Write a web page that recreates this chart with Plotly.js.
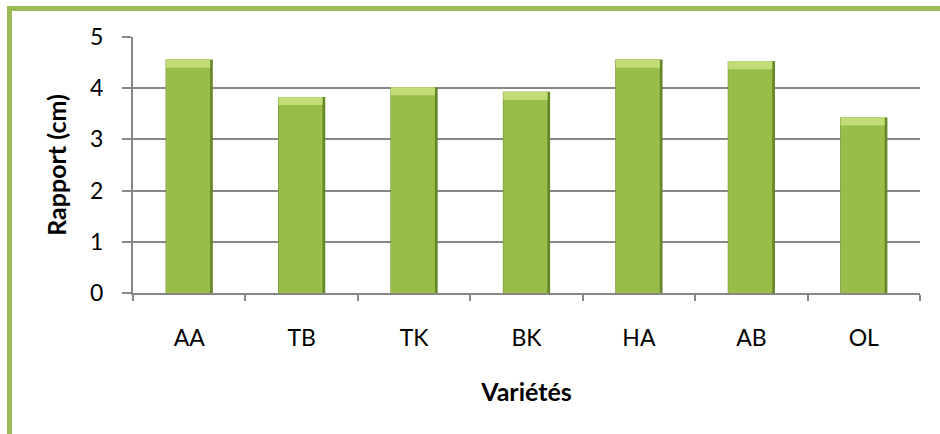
<!DOCTYPE html>
<html>
<head>
<meta charset="utf-8">
<script src="https://cdn.plot.ly/plotly-3.0.1.min.js"></script>
<style>
  html, body { margin: 0; padding: 0; background: #ffffff; overflow: hidden; width: 940px; height: 434px; }
  #frame {
    position: absolute; left: 7px; top: 6px; width: 980px; height: 426px;
    border-left: 5px solid #9BBB59; border-top: 5px solid #9BBB59;
    border-bottom: 1px solid #ececec;
  }
  #chart { position: absolute; left: 0; top: 0; width: 940px; height: 434px; }
</style>
</head>
<body>
<div id="frame"></div>
<div id="chart"></div>
<script>
// Varieties and their measured ratio (cm)
const varietes = ["AA", "TB", "TK", "BK", "HA", "AB", "OL"];
const rapport = [4.56, 3.83, 4.02, 3.93, 4.56, 4.53, 3.43];
const yTicks = [0, 1, 2, 3, 4, 5];

// height of the light bevel band at the top of each bar (data units)
const bevel = 0.16;

const font = "Lato, 'Open Sans', sans-serif";

const traces = [
  // dark outer shell of each bar
  {
    type: "bar", x: varietes, y: rapport,
    width: 0.42,
    marker: { color: "#66862A", line: { width: 0 } },
    hoverinfo: "skip"
  },
  // main body, inset so the darker right edge shows
  {
    type: "bar", x: varietes, y: rapport,
    width: 0.392, offset: -0.206,
    marker: { color: "#98BD48", line: { width: 0 } },
    hoverinfo: "skip"
  },
  // lighter bevel band along the top
  {
    type: "bar", x: varietes,
    y: rapport.map(() => bevel),
    base: rapport.map(v => v - bevel),
    width: 0.392, offset: -0.206,
    marker: { color: "#C2DD78", line: { width: 0 } },
    hoverinfo: "skip"
  }
];

const layout = {
  width: 940, height: 434,
  margin: { l: 133, r: 20, t: 37, b: 141 },
  paper_bgcolor: "rgba(0,0,0,0)",
  plot_bgcolor: "rgba(0,0,0,0)",
  barmode: "overlay",
  showlegend: false,
  font: { family: font, color: "#000000" },
  xaxis: {
    type: "category",
    showgrid: false,
    showline: true, linecolor: "#878787", linewidth: 2,
    ticks: "outside", tickson: "boundaries", ticklen: 6, tickwidth: 2, tickcolor: "#878787",
    tickfont: { family: font, size: 23, color: "#000000" },
    ticklabelstandoff: 23,
    title: { text: "Variétés", font: { family: font, size: 25, color: "#000000", weight: "bold" }, standoff: 34 }
  },
  yaxis: {
    range: [0, 5],
    tickvals: yTicks,
    showgrid: true, gridcolor: "#878787", gridwidth: 2,
    zeroline: false,
    showline: true, linecolor: "#878787", linewidth: 2,
    ticks: "outside", ticklen: 9, tickwidth: 2, tickcolor: "#878787",
    tickfont: { family: font, size: 23, color: "#000000" },
    ticklabelstandoff: 14,
    title: { text: "Rapport (cm)", font: { family: font, size: 25, color: "#000000", weight: "bold" }, standoff: 16 }
  }
};

Plotly.newPlot("chart", traces, layout, { staticPlot: true, displayModeBar: false });
</script>
</body>
</html>
